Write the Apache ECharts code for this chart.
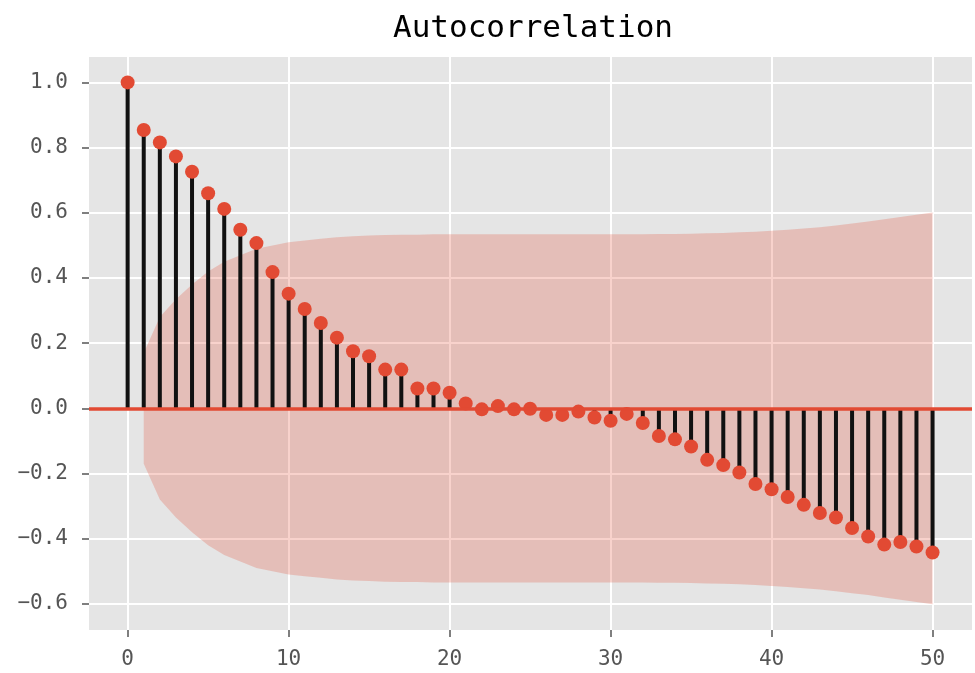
<!DOCTYPE html>
<html>
<head>
<meta charset="utf-8">
<title>Autocorrelation</title>
<script src="https://cdn.jsdelivr.net/npm/echarts@6.0.0/dist/echarts.min.js"></script>
<style>
  html, body { margin: 0; padding: 0; background: #fff; }
  #main { width: 975px; height: 673px; }
</style>
</head>
<body>
<div id="main"></div>
<script>
// lags 0..50
var lags = [0, 1, 2, 3, 4, 5, 6, 7, 8, 9, 10, 11, 12, 13, 14, 15, 16, 17, 18, 19, 20,
  21, 22, 23, 24, 25, 26, 27, 28, 29, 30, 31, 32, 33, 34, 35, 36, 37, 38, 39, 40,
  41, 42, 43, 44, 45, 46, 47, 48, 49, 50];

// autocorrelation
var acfValues = [1.0, 0.854, 0.816, 0.773, 0.726, 0.660, 0.612, 0.548, 0.507, 0.418, 0.352,
  0.305, 0.262, 0.217, 0.175, 0.160, 0.119, 0.119, 0.061, 0.061, 0.048,
  0.015, -0.003, 0.007, -0.003, -0.001, -0.020, -0.020, -0.010, -0.028, -0.038,
  -0.017, -0.045, -0.085, -0.095, -0.117, -0.158, -0.174, -0.197, -0.232, -0.248,
  -0.272, -0.296, -0.321, -0.335, -0.367, -0.393, -0.418, -0.410, -0.424, -0.442];

// confidence band (half width), lags 1..50
var bandLags = [1, 2, 3, 4, 5, 6, 7, 8, 9, 10, 11, 12, 13, 14, 15, 16, 17, 18, 19, 20,
  21, 22, 23, 24, 25, 26, 27, 28, 29, 30, 31, 32, 33, 34, 35, 36, 37, 38, 39, 40,
  41, 42, 43, 44, 45, 46, 47, 48, 49, 50];
var confWidth = [0.17, 0.28, 0.335, 0.38, 0.42, 0.45, 0.47, 0.49, 0.50, 0.51,
  0.515, 0.52, 0.525, 0.528, 0.53, 0.532, 0.533, 0.533, 0.534, 0.534,
  0.534, 0.534, 0.534, 0.534, 0.534, 0.534, 0.534, 0.534, 0.534, 0.534,
  0.534, 0.534, 0.535, 0.535, 0.536, 0.537, 0.538, 0.540, 0.542, 0.545,
  0.548, 0.552, 0.556, 0.561, 0.567, 0.573, 0.580, 0.587, 0.594, 0.601];

var xTicks = [0, 10, 20, 30, 40, 50];
var yTicks = [-0.6, -0.4, -0.2, 0.0, 0.2, 0.4, 0.6, 0.8, 1.0];

var red = '#E24A33';
var bandColor = 'rgba(226,74,51,0.25)';
var mono = 'DejaVu Sans Mono';

var points = lags.map(function (l, i) { return [l, acfValues[i]]; });
var upper = bandLags.map(function (l, i) { return [l, confWidth[i]]; });
var lower = bandLags.map(function (l, i) { return [l, -confWidth[i]]; });

var myChart = echarts.init(document.getElementById('main'));
myChart.setOption({
  animation: false,
  backgroundColor: '#fff',
  title: {
    text: 'Autocorrelation',
    left: 388,
    top: 8,
    textStyle: { fontFamily: mono, fontSize: 31, fontWeight: 'normal', color: '#000' }
  },
  grid: {
    left: 89,
    right: 3,
    top: 57,
    bottom: 43,
    show: true,
    backgroundColor: '#E5E5E5',
    borderWidth: 0
  },
  xAxis: {
    type: 'value',
    min: -2.4,
    max: 52.45,
    splitNumber: 5,
    axisLine: { show: false, onZero: false },
    axisTick: { show: true, inside: false, length: 7, lineStyle: { color: '#555', width: 1.5 }, customValues: xTicks },
    axisLabel: {
      customValues: xTicks,
      margin: 19,
      color: '#555', fontFamily: mono, fontSize: 21,
      formatter: function (v) { return String(Math.round(v)); }
    },
    splitLine: { show: true, lineStyle: { color: '#fff', width: 2 } }
  },
  yAxis: {
    type: 'value',
    min: -0.68,
    max: 1.078,
    splitNumber: 8,
    axisLine: { show: false, onZero: false },
    axisTick: { show: true, inside: false, length: 7, lineStyle: { color: '#555', width: 1.5 }, customValues: yTicks },
    axisLabel: {
      customValues: yTicks,
      margin: 21,
      color: '#555', fontFamily: mono, fontSize: 21,
      formatter: function (v) { return v.toFixed(1).replace('-', '\u2212'); }
    },
    splitLine: { show: true, lineStyle: { color: '#fff', width: 2 } }
  },
  series: [
    {
      name: 'band upper',
      type: 'line',
      data: upper,
      symbol: 'none',
      lineStyle: { width: 0, opacity: 0 },
      areaStyle: { color: bandColor, origin: 0, opacity: 1 },
      z: 1
    },
    {
      name: 'band lower',
      type: 'line',
      data: lower,
      symbol: 'none',
      lineStyle: { width: 0, opacity: 0 },
      areaStyle: { color: bandColor, origin: 0, opacity: 1 },
      z: 1
    },
    {
      name: 'stems',
      type: 'bar',
      data: points,
      barWidth: 4,
      itemStyle: { color: '#111' },
      z: 2,
      markLine: {
        silent: true,
        symbol: ['none', 'none'],
        label: { show: false },
        lineStyle: { color: red, width: 3.5, type: 'solid' },
        data: [{ yAxis: 0 }]
      }
    },
    {
      name: 'acf',
      type: 'scatter',
      data: points,
      symbol: 'circle',
      symbolSize: 14,
      itemStyle: { color: red, opacity: 1 },
      z: 4
    }
  ]
});
</script>
</body>
</html>
